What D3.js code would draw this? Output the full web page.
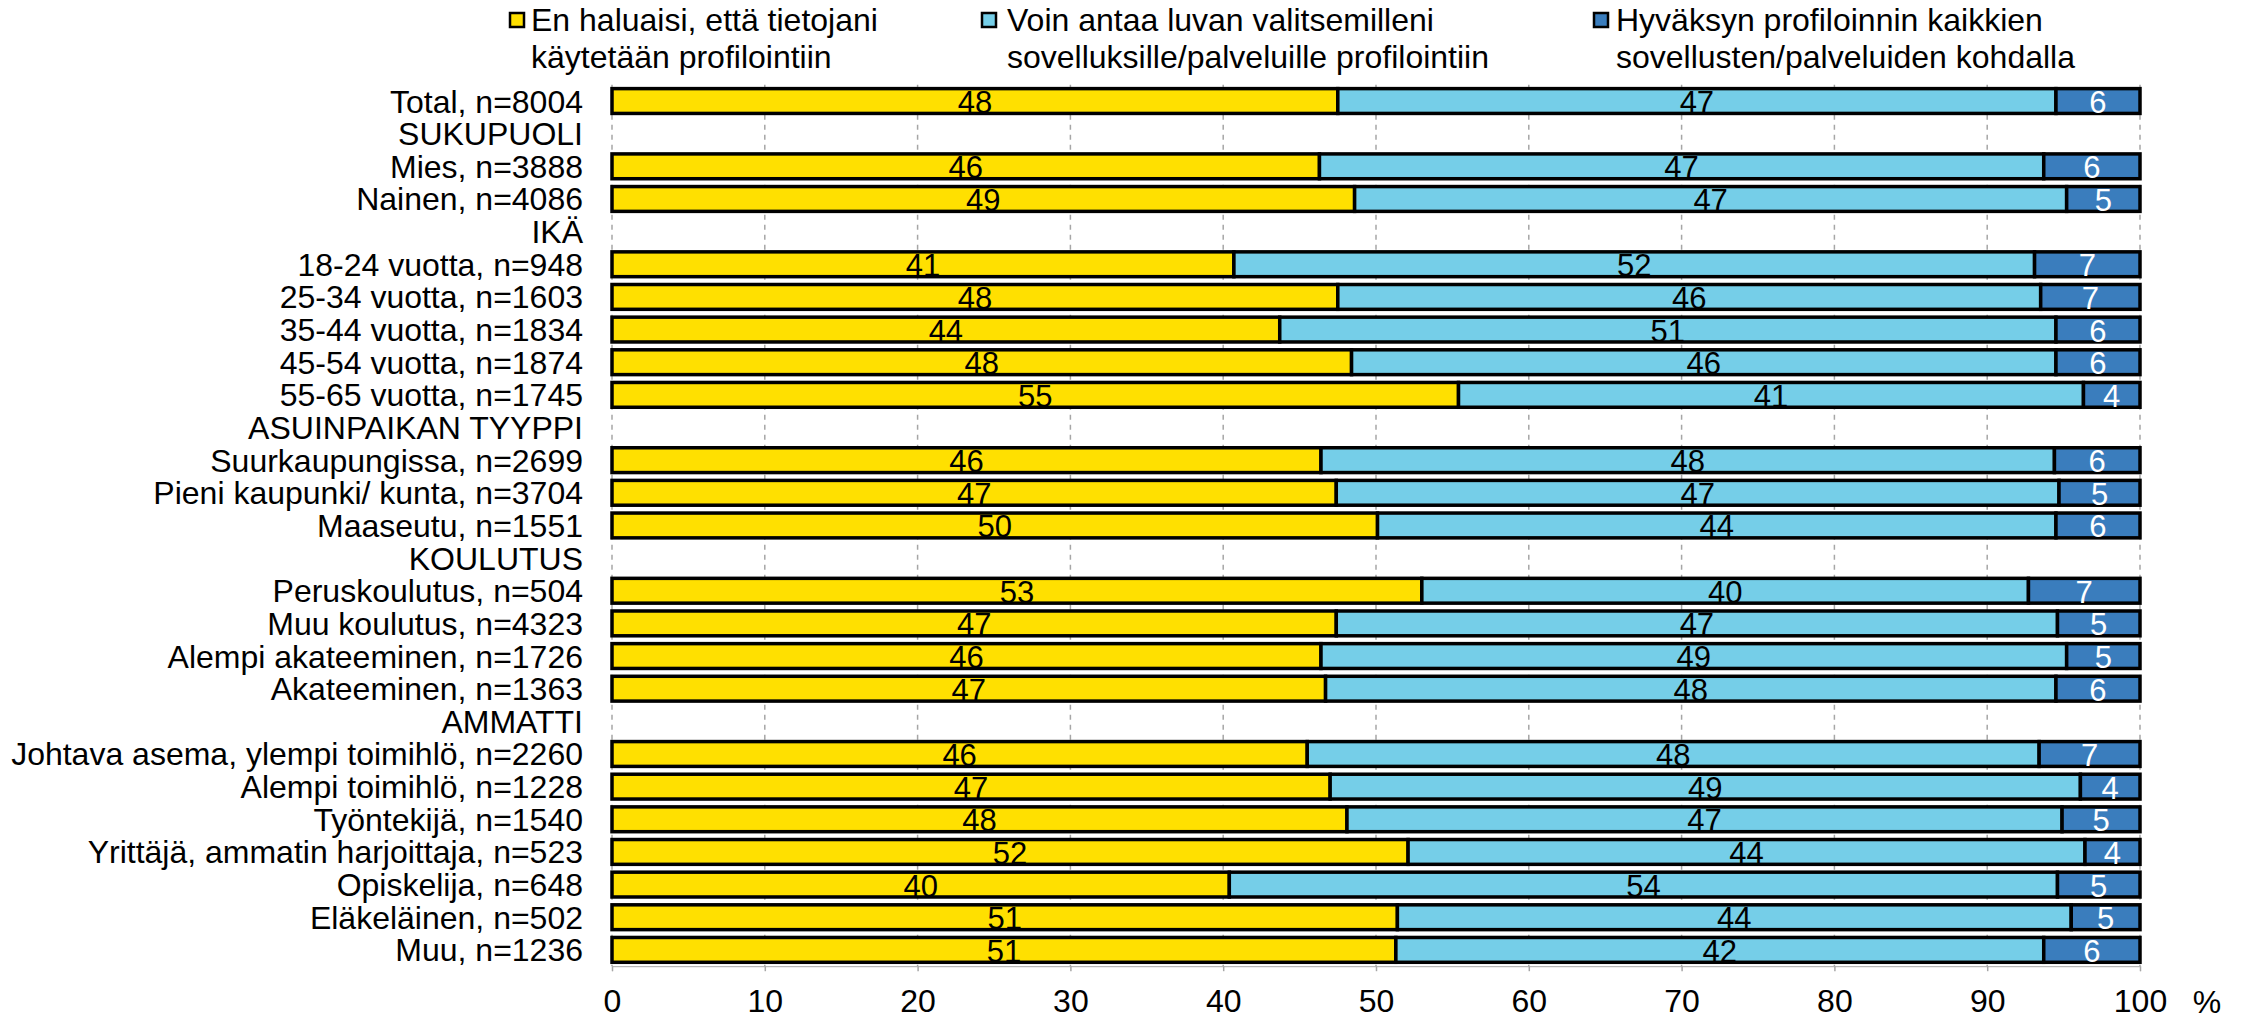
<!DOCTYPE html>
<html>
<head>
<meta charset="utf-8">
<script src="https://cdn.jsdelivr.net/npm/d3@7"></script>
<style>
  html, body { margin: 0; padding: 0; background: #fff; }
  svg { display: block; font-family: "Liberation Sans", Arial, sans-serif; }
</style>
</head>
<body>
<svg id="chart" width="2252" height="1020"></svg>
<script>
// ---- data ----
const categories = [
  "Total, n=8004",
  "SUKUPUOLI",
  "Mies, n=3888",
  "Nainen, n=4086",
  "IKÄ",
  "18-24 vuotta, n=948",
  "25-34 vuotta, n=1603",
  "35-44 vuotta, n=1834",
  "45-54 vuotta, n=1874",
  "55-65 vuotta, n=1745",
  "ASUINPAIKAN TYYPPI",
  "Suurkaupungissa, n=2699",
  "Pieni kaupunki/ kunta, n=3704",
  "Maaseutu, n=1551",
  "KOULUTUS",
  "Peruskoulutus, n=504",
  "Muu koulutus, n=4323",
  "Alempi akateeminen, n=1726",
  "Akateeminen, n=1363",
  "AMMATTI",
  "Johtava asema, ylempi toimihlö, n=2260",
  "Alempi toimihlö, n=1228",
  "Työntekijä, n=1540",
  "Yrittäjä, ammatin harjoittaja, n=523",
  "Opiskelija, n=648",
  "Eläkeläinen, n=502",
  "Muu, n=1236"
];
const seriesNames = [
  ["En haluaisi, että tietojani", "käytetään profilointiin"],
  ["Voin antaa luvan valitsemilleni", "sovelluksille/palveluille profilointiin"],
  ["Hyväksyn profiloinnin kaikkien", "sovellusten/palveluiden kohdalla"]
];
const noProfiling = [47.5, null, 46.3, 48.6, null, 40.7, 47.5, 43.7, 48.4, 55.4, null, 46.4, 47.4, 50.1, null, 53.0, 47.4, 46.4, 46.7, null, 45.5, 47.0, 48.1, 52.1, 40.4, 51.4, 51.3];
const selectedServices = [47.0, null, 47.4, 46.6, null, 52.4, 46.0, 50.8, 46.1, 40.9, null, 48.0, 47.3, 44.4, null, 39.7, 47.2, 48.8, 47.8, null, 47.9, 49.1, 46.8, 44.3, 54.2, 44.1, 42.4];
const allServices = [5.5, null, 6.3, 4.8, null, 6.9, 6.5, 5.5, 5.5, 3.7, null, 5.6, 5.3, 5.5, null, 7.3, 5.4, 4.8, 5.5, null, 6.6, 3.9, 5.1, 3.6, 5.4, 4.5, 6.3];
const xTicks = [0, 10, 20, 30, 40, 50, 60, 70, 80, 90, 100];
const colors = ["#FFE000", "#75CEE8", "#3A7DBD"];
const labelColors = ["#000", "#000", "#fff"];

// ---- layout ----
const svg = d3.select("#chart");
const plotLeft = 612, plotRight = 2140, plotTop = 84.7, plotBottom = 966.2;
const x = d3.scaleLinear().domain([0, 100]).range([plotLeft, plotRight]);
const y = d3.scaleBand().domain(categories).range([plotTop, plotBottom]).padding(0);
const bw = y.bandwidth();

// grid lines
svg.append("g").selectAll("line").data(xTicks).join("line")
  .attr("x1", d => x(d)).attr("x2", d => x(d))
  .attr("y1", plotTop).attr("y2", plotBottom)
  .attr("stroke", "#a6a6a6").attr("stroke-width", 1.5)
  .attr("stroke-dasharray", "5,5");

// build stacked rows
const rows = categories.map((c, i) => ({
  cat: c,
  vals: [noProfiling[i], selectedServices[i], allServices[i]]
})).filter(r => r.vals[0] !== null);

const segs = [];
rows.forEach(r => {
  let acc = 0;
  r.vals.forEach((v, k) => {
    segs.push({cat: r.cat, k, x0: acc, x1: acc + v, v});
    acc += v;
  });
});

const barH = bw * 0.76;
const gBars = svg.append("g");
gBars.selectAll("rect").data(segs).join("rect")
  .attr("x", d => x(d.x0))
  .attr("width", d => x(d.x1) - x(d.x0))
  .attr("y", d => y(d.cat) + (bw - barH) / 2)
  .attr("height", barH)
  .attr("fill", d => colors[d.k])
  .attr("stroke", "#000")
  .attr("stroke-width", 3.5);

gBars.selectAll("text").data(segs).join("text")
  .attr("x", d => (x(d.x0) + x(d.x1)) / 2)
  .attr("y", d => y(d.cat) + bw / 2 + 12)
  .attr("text-anchor", "middle")
  .attr("font-size", 31)
  .attr("fill", d => labelColors[d.k])
  .text(d => Math.round(d.v));

// category labels
svg.append("g").selectAll("text").data(categories).join("text")
  .attr("x", 583)
  .attr("y", d => y(d) + bw / 2 + 11.5)
  .attr("text-anchor", "end")
  .attr("font-size", 32)
  .attr("fill", "#000")
  .text(d => d);

// x axis
const xAxis = d3.axisBottom(x).tickValues(xTicks).tickSize(5).tickPadding(18).tickFormat(d3.format("d"));
const gx = svg.append("g").attr("transform", `translate(0,${plotBottom})`).call(xAxis);
gx.select(".domain").attr("stroke", "#a6a6a6").attr("stroke-width", 1);
gx.selectAll(".tick line").attr("stroke", "#a6a6a6").attr("stroke-width", 1.5);
gx.selectAll(".tick text")
  .attr("font-family", "Liberation Sans, Arial, sans-serif")
  .attr("font-size", 32).attr("fill", "#000");
svg.append("text").attr("x", 2207).attr("y", 1013)
  .attr("text-anchor", "middle").attr("font-size", 32).attr("fill", "#000").text("%");

// legend
const legendX = [510, 982, 1594];
const legendTextX = [531, 1007, 1616];
const lg = svg.append("g");
seriesNames.forEach((lines, i) => {
  lg.append("rect")
    .attr("x", legendX[i]).attr("y", 13)
    .attr("width", 14).attr("height", 14)
    .attr("fill", colors[i]).attr("stroke", "#000").attr("stroke-width", 2.5);
  lines.forEach((t, j) => {
    lg.append("text")
      .attr("x", legendTextX[i]).attr("y", 31 + j * 37)
      .attr("font-size", 32).attr("fill", "#000")
      .text(t);
  });
});
</script>
</body>
</html>
